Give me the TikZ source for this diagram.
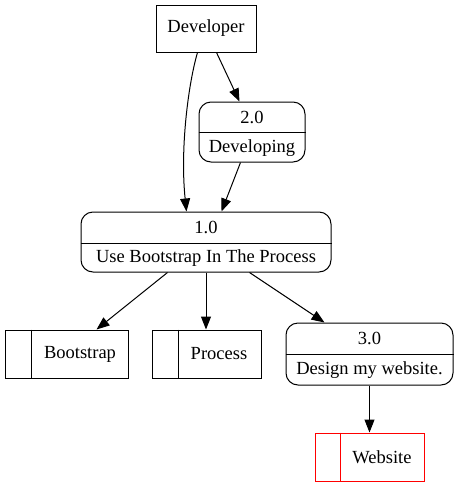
\documentclass[tikz,border=0pt]{standalone}
\usepackage{fontspec}
\setmainfont{Liberation Serif}
\usetikzlibrary{arrows.meta,calc}
\begin{document}
\begin{tikzpicture}[x=1pt,y=-1pt,
  every node/.style={font=\fontsize{18.5}{21}\selectfont, inner sep=0pt},
  ext/.style={draw, line width=1pt, minimum width=100pt, minimum height=47pt},
  proc/.style={draw, line width=1pt, rounded corners=12pt},
  store/.style={draw, line width=1pt, minimum height=48pt},
  divider/.style={line width=1pt},
  flow/.style={line width=1pt, -{Triangle[length=13pt,width=10pt]}},
  lbl/.style={anchor=center}
]
\useasboundingbox (0,0) rectangle (458,488);

% Developer
\node[ext] (dev) at (206,28.5) {Developer};

% 2.0
\node[proc, minimum width=106pt, minimum height=60pt] (p2) at (252,132) {};
\draw[divider] (p2.west) -- (p2.east);
\node[lbl] (p2n) at (252,117) {2.0};
\node[lbl] (p2t) at (252,148) {Developing};

% 1.0
\node[proc, minimum width=250pt, minimum height=60pt] (p1) at (206,242) {};
\draw[divider] ($(p1.west)+(0,1)$) -- ($(p1.east)+(0,1)$);
\node[lbl] (p1n) at (206,227) {1.0};
\node[lbl] (p1t) at (206,258) {Use Bootstrap In The Process};

% 3.0
\node[proc, minimum width=167pt, minimum height=62pt] (p3) at (369.5,354) {};
\draw[divider] (p3.west) -- (p3.east);
\node[lbl] (p3n) at (369.5,338) {3.0};
\node[lbl] (p3t) at (369.5,370) {Design my website.};

% stores
\node[store, minimum width=123pt] (bs) at (66.5,354) {};
\draw[divider] ($(bs.north west)+(27,0)$) -- ($(bs.south west)+(27,0)$);
\node[lbl] (bst) at (80,354) {Bootstrap};

\node[store, minimum width=109pt] (pr) at (206.5,354) {};
\draw[divider] ($(pr.north west)+(27,0)$) -- ($(pr.south west)+(27,0)$);
\node[lbl] (prt) at (219,354) {Process};

\node[store, minimum width=109pt, draw=red] (ws) at (369.5,457) {};
\draw[divider, red] ($(ws.north west)+(26,0)$) -- ($(ws.south west)+(26,0)$);
\node[lbl] (wst) at (382,457) {Website};

% edges
\draw[flow] ($(dev.south west)+(42,0)$) .. controls (188,85) and (180,150) .. ($(p1.north west)+(106,0)$);
\draw[flow] ($(dev.south west)+(61,0)$) -- ($(p2.north west)+(41,0)$);
\draw[flow] ($(p2.south west)+(42,0)$) -- ($(p1.north west)+(141,0)$);
\draw[flow] ($(p1.south west)+(87,0)$) -- ($(bs.north west)+(92,0)$);
\draw[flow] (p1.south) -- (pr.north -| p1.south);
\draw[flow] ($(p1.south west)+(169,0)$) -- ($(p3.north west)+(39,0)$);
\draw[flow] ($(p3.south west)+(84,0)$) -- ($(ws.north west)+(55,0)$);
\end{tikzpicture}
\end{document}
